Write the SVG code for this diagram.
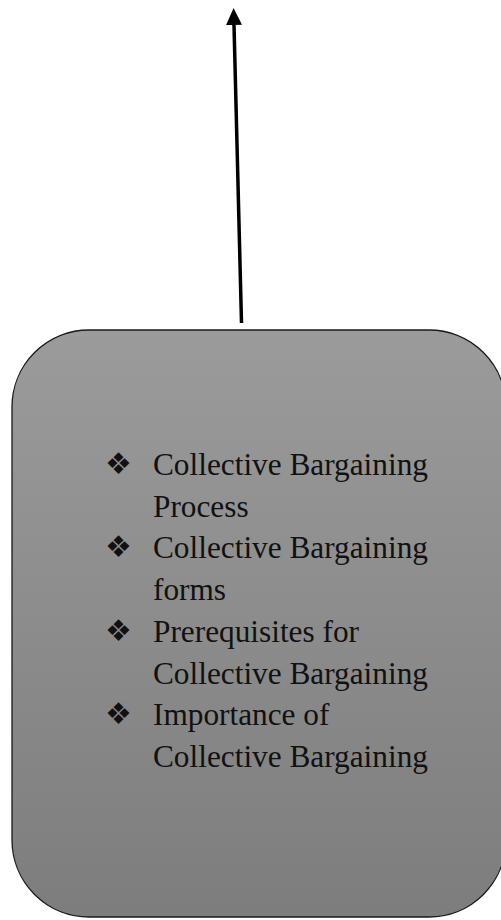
<svg xmlns="http://www.w3.org/2000/svg" width="501" height="920" viewBox="0 0 501 920">
  <defs>
    <linearGradient id="boxFill" x1="0" y1="0" x2="0" y2="1">
      <stop offset="0" stop-color="#9b9b9b"/>
      <stop offset="1" stop-color="#7d7d7d"/>
    </linearGradient>
    <marker id="arrowHead" markerUnits="userSpaceOnUse" markerWidth="18" markerHeight="17" refX="0" refY="8" orient="auto">
      <path d="M0,0 L17,8 L0,16 z" fill="#000"/>
    </marker>
  </defs>
  <style>
    .box { fill: url(#boxFill); stroke: #1a1a1a; stroke-width: 1.3; }
    .item { font-family: "Liberation Serif", "Times New Roman", serif; font-size: 31.3px; fill: #111; }
    .bullet { font-family: "DejaVu Sans", sans-serif; font-size: 30px; fill: #111; }
    .link { stroke: #000; stroke-width: 3.5; fill: none; }
  </style>

  <!-- connector leaving the topic box upwards -->
  <g id="connectors">
    <line class="link" x1="241.5" y1="323" x2="234" y2="25" marker-end="url(#arrowHead)"/>
  </g>

  <!-- topic box with bulleted list -->
  <g id="topics">
    <rect class="box" x="12" y="330" width="494" height="587" rx="77" ry="77"/>
    <text class="bullet" x="105" y="474">❖</text>
    <text class="bullet" x="105" y="557">❖</text>
    <text class="bullet" x="105" y="641">❖</text>
    <text class="bullet" x="105" y="724">❖</text>
    <text class="item" x="153" y="475">Collective Bargaining</text>
    <text class="item" x="153" y="517">Process</text>
    <text class="item" x="153" y="558">Collective Bargaining</text>
    <text class="item" x="153" y="600">forms</text>
    <text class="item" x="153" y="642">Prerequisites for</text>
    <text class="item" x="153" y="684">Collective Bargaining</text>
    <text class="item" x="153" y="725">Importance of</text>
    <text class="item" x="153" y="767">Collective Bargaining</text>
  </g>
</svg>
